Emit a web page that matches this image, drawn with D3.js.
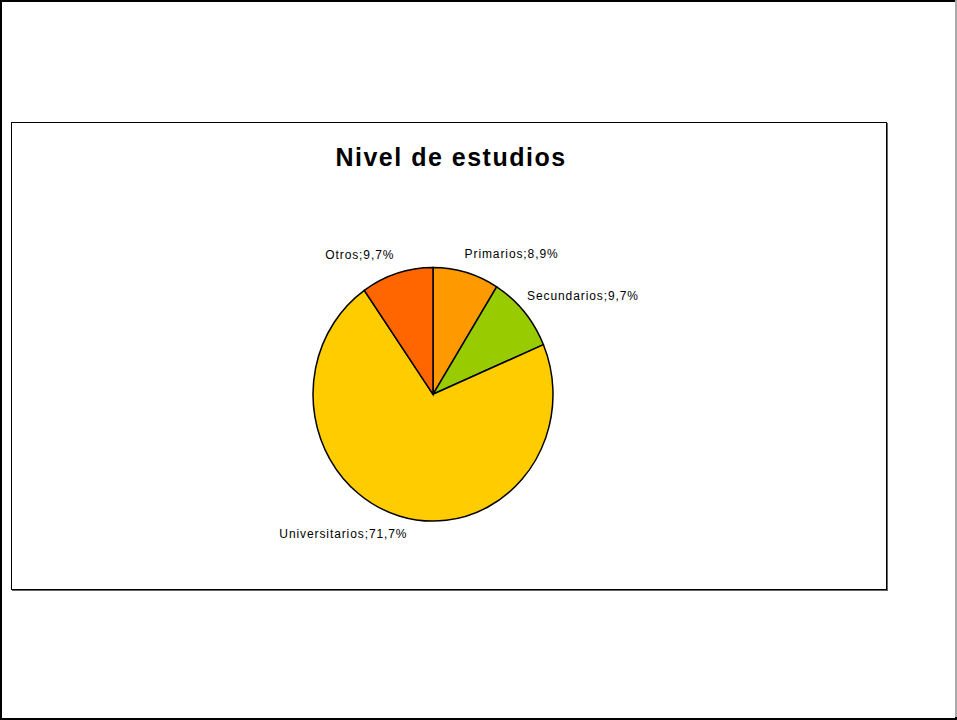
<html>
<head>
<script src="https://d3js.org/d3.v7.min.js"></script>
<style>
  body { margin: 0; background: #fff; }
  .title { font-family: "Liberation Sans", Arial, sans-serif; font-size: 25px; font-weight: bold; letter-spacing: 1.5px; }
  .lbl { font-family: "Liberation Sans", Arial, sans-serif; font-size: 12px; letter-spacing: 0.9px; }
</style>
</head>
<body>
<svg id="chart" width="957" height="720"></svg>
<script>
const categories = ["Primarios", "Secundarios", "Universitarios", "Otros"];
const values = [8.9, 9.7, 71.7, 9.7];
const labels = ["Primarios;8,9%", "Secundarios;9,7%", "Universitarios;71,7%", "Otros;9,7%"];
const colors = ["#FF9900", "#99CC00", "#FFCC00", "#FF6600"];

const svg = d3.select("#chart");
const width = +svg.attr("width"), height = +svg.attr("height");

// page frame
svg.append("rect").attr("x", 1).attr("y", 1).attr("width", width - 2).attr("height", height - 2)
   .attr("fill", "none").attr("stroke", "#000").attr("stroke-width", 2);
svg.append("line").attr("x1", width - 1).attr("x2", width - 1).attr("y1", 0).attr("y2", height - 3)
   .attr("stroke", "#aaa").attr("stroke-width", 2);

// chart area box
const box = {x: 11, y: 122, w: 875, h: 467};
svg.append("rect").attr("x", box.x + 1.5).attr("y", box.y + 1.5).attr("width", box.w).attr("height", box.h)
   .attr("fill", "none").attr("stroke", "#666").attr("stroke-width", 1);
svg.append("rect").attr("x", box.x + 0.5).attr("y", box.y + 0.5).attr("width", box.w).attr("height", box.h)
   .attr("fill", "#fff").attr("stroke", "#000").attr("stroke-width", 1);

svg.append("text").attr("class", "title")
   .attr("x", box.x + box.w / 2 + 2.5).attr("y", 166)
   .attr("text-anchor", "middle")
   .text("Nivel de estudios");

// pie (slightly taller than wide, as in the original)
const cx = 433, cy = 394.3, rx = 120, ry = 126.8;
const r = rx, sy = ry / rx;

const pie = d3.pie().sort(null).value(d => d)(values);
const arc = d3.arc().innerRadius(0).outerRadius(r);
const color = d3.scaleOrdinal().domain(categories).range(colors);

const g = svg.append("g").attr("transform", `translate(${cx},${cy})`);
g.append("g").attr("transform", `scale(1,${sy})`)
  .selectAll("path").data(pie).join("path")
  .attr("d", arc)
  .attr("fill", (d, i) => color(categories[i]))
  .attr("stroke", "#000")
  .attr("stroke-width", 1.5)
  .attr("vector-effect", "non-scaling-stroke");

// labels outside end
const gap = 9;
pie.forEach((d, i) => {
  const a = (d.startAngle + d.endAngle) / 2;
  const s = Math.sin(a), c = Math.cos(a);
  const px = (rx + gap) * s, py = -(ry + gap) * c;
  g.append("text").attr("class", "lbl")
    .attr("x", s >= 0 ? px - 4 : px + (c < 0 ? 10 : 0))
    .attr("y", c > 0 ? py - 6 : py + 13)
    .attr("text-anchor", s >= 0 ? "start" : "end")
    .text(labels[i]);
});
</script>
</body>
</html>
